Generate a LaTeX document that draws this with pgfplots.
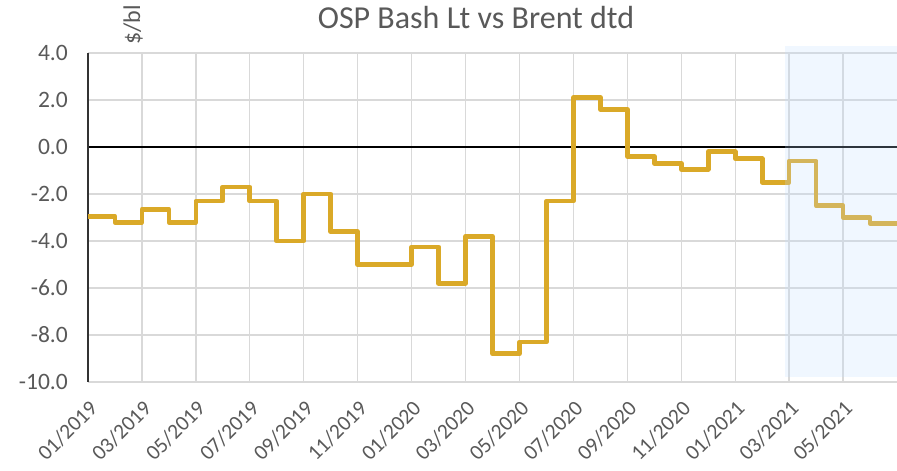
\documentclass[border=0pt]{standalone}
\usepackage{pgfplots}
\pgfplotsset{compat=1.18}
\usepackage{fontspec}
\setmainfont{Carlito}
\definecolor{osp}{RGB}{218,169,40}
\definecolor{gridc}{RGB}{217,217,217}
\definecolor{txt}{RGB}{89,89,89}
\definecolor{shadeblue}{RGB}{193,223,255}
\begin{document}
\begin{tikzpicture}[x=1bp,y=1bp]
\useasboundingbox (0,0) rectangle (897,471);
\begin{axis}[
  at={(88bp,89bp)}, anchor=south west,
  scale only axis, width=809bp, height=329bp,
  xmin=0, xmax=30, ymin=-10, ymax=4,
  clip=false,
  axis line style={draw=none},
  major tick length=0pt,
  xtick={0,2,...,28},
  xticklabels={01/2019,03/2019,05/2019,07/2019,09/2019,11/2019,01/2020,03/2020,05/2020,07/2020,09/2020,11/2020,01/2021,03/2021,05/2021},
  ytick={-10,-8,...,4},
  /pgf/number format/assume math mode=true,
  yticklabel style={/pgf/number format/fixed, /pgf/number format/fixed zerofill, /pgf/number format/precision=1,
    text=txt, font=\fontsize{23.5bp}{27bp}\selectfont, inner sep=0pt, anchor=east, xshift=-20bp},
  xticklabel style={rotate=45, anchor=north east, text=txt, font=\fontsize{21.5bp}{25bp}\selectfont, inner sep=0pt},
  xticklabel shift=17bp,
  grid=major,
  major grid style={gridc, line width=1.3bp},
]
\draw[black, line width=1.3bp] (axis cs:0,0) -- (axis cs:30,0);
\draw[black!80, line width=1.2bp] (axis cs:0,-10) -- (axis cs:0,4);
\addplot[const plot mark left, osp, line width=4.7bp, line join=round, mark=none] coordinates {
(0,-2.95) (1,-3.2) (2,-2.65) (3,-3.2) (4,-2.3) (5,-1.7) (6,-2.3) (7,-4.0) (8,-2.0) (9,-3.6)
(10,-5.0) (11,-5.0) (12,-4.25) (13,-5.8) (14,-3.8) (15,-8.8) (16,-8.3) (17,-2.3) (18,2.1) (19,1.6)
(20,-0.4) (21,-0.7) (22,-0.95) (23,-0.2) (24,-0.5) (25,-1.5) (26,-0.6) (27,-2.5) (28,-3.0) (29,-3.25) (30,-3.25)
};
\fill[fill=shadeblue, fill opacity=0.24] (axis cs:25.85,-9.8) rectangle (axis cs:30.5,4.3);
\end{axis}
\node[text=txt, font=\fontsize{32bp}{37bp}\selectfont, anchor=base, inner sep=0pt] at (476,442) {OSP Bash Lt vs Brent dtd};
\node[text=txt, font=\fontsize{24bp}{28bp}\selectfont, rotate=90, anchor=base west, inner sep=0pt] at (140,426) {\$/bl};
\end{tikzpicture}
\end{document}
